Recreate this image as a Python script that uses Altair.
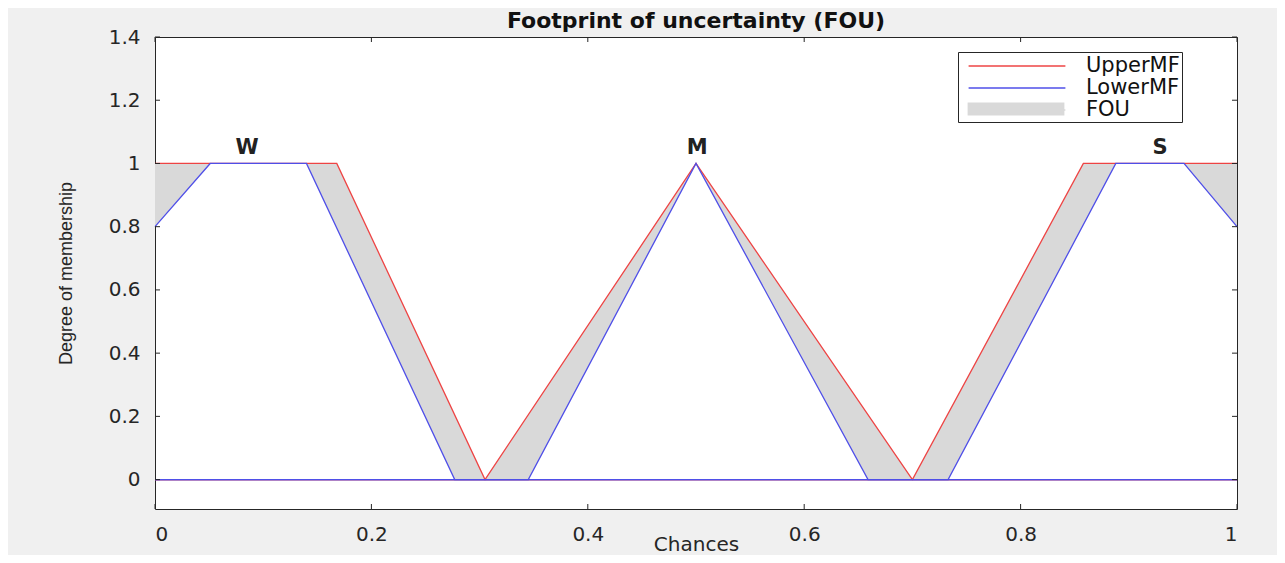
import altair as alt
import pandas as pd

# ---------------- data ----------------
w_upper_x = [0.0, 0.168, 0.305, 1.0]
w_upper_y = [1.0, 1.0, 0.0, 0.0]
w_lower_x = [0.0, 0.051, 0.140, 0.277, 1.0]
w_lower_y = [0.8, 1.0, 1.0, 0.0, 0.0]

m_upper_x = [0.0, 0.305, 0.5, 0.700, 1.0]
m_upper_y = [0.0, 0.0, 1.0, 0.0, 0.0]
m_lower_x = [0.0, 0.345, 0.5, 0.659, 1.0]
m_lower_y = [0.0, 0.0, 1.0, 0.0, 0.0]

s_upper_x = [0.0, 0.700, 0.858, 1.0]
s_upper_y = [0.0, 0.0, 1.0, 1.0]
s_lower_x = [0.0, 0.733, 0.888, 0.951, 1.0]
s_lower_y = [0.0, 0.0, 1.0, 1.0, 0.8]

w_fou_x = [0.0, 0.051, 0.140, 0.168, 0.277, 0.305]
w_fou_upper = [1.0, 1.0, 1.0, 1.0, 0.204, 0.0]
w_fou_lower = [0.8, 1.0, 1.0, 0.796, 0.0, 0.0]
m_fou_x = [0.305, 0.345, 0.5, 0.659, 0.700]
m_fou_upper = [0.0, 0.205, 1.0, 0.205, 0.0]
m_fou_lower = [0.0, 0.0, 1.0, 0.0, 0.0]
s_fou_x = [0.700, 0.733, 0.858, 0.888, 0.951, 1.0]
s_fou_upper = [0.0, 0.209, 1.0, 1.0, 1.0, 1.0]
s_fou_lower = [0.0, 0.0, 0.806, 1.0, 1.0, 0.8]

term_names = ["W", "M", "S"]
term_x = [0.085, 0.501, 0.929]
term_y = [1.048, 1.048, 1.048]

x_ticks = [0, 0.2, 0.4, 0.6, 0.8, 1]
y_ticks = [0, 0.2, 0.4, 0.6, 0.8, 1, 1.2, 1.4]
x_domain = [0, 1]
y_domain = [-0.093, 1.4]

series_names = ["UpperMF", "LowerMF", "FOU"]
series_colors = ["#ee4444", "#4f4fe8", "#d9d9d9"]
fou_names = ["FOU"]
fou_colors = ["#d9d9d9"]
line_symbol = "M-4.4,0H4.4"
patch_symbol = "M-4.4,-0.58H4.4V0.58H-4.4Z"

# ---------------- tables ----------------
def curve(name, series, xs, ys):
    return pd.DataFrame({"x": xs, "y": ys, "curve": name, "series": series})

upper_df = pd.concat([
    curve("W", "UpperMF", w_upper_x, w_upper_y),
    curve("M", "UpperMF", m_upper_x, m_upper_y),
    curve("S", "UpperMF", s_upper_x, s_upper_y),
])
lower_df = pd.concat([
    curve("W", "LowerMF", w_lower_x, w_lower_y),
    curve("M", "LowerMF", m_lower_x, m_lower_y),
    curve("S", "LowerMF", s_lower_x, s_lower_y),
])
fou_df = pd.concat([
    pd.DataFrame({"x": w_fou_x, "up": w_fou_upper, "lo": w_fou_lower, "curve": "W"}),
    pd.DataFrame({"x": m_fou_x, "up": m_fou_upper, "lo": m_fou_lower, "curve": "M"}),
    pd.DataFrame({"x": s_fou_x, "up": s_fou_upper, "lo": s_fou_lower, "curve": "S"}),
])
fou_df["series"] = "FOU"
terms_df = pd.DataFrame({"x": term_x, "y": term_y, "t": term_names})
xt_df = pd.DataFrame({"t": x_ticks})
yt_df = pd.DataFrame({"t": y_ticks})

W, H = 1082, 472
INK = "#262626"

xs = alt.Scale(domain=x_domain, nice=False, zero=False)
ys = alt.Scale(domain=y_domain, nice=False, zero=False)
line_scale = alt.Scale(domain=series_names, range=series_colors)
fou_scale = alt.Scale(domain=fou_names, range=fou_colors)

x_axis = alt.Axis(values=x_ticks, format="~g", grid=False, ticks=False,
                  domain=False, labelFont="DejaVu Sans", labelFontSize=20,
                  labelColor=INK, labelPadding=15,
                  title="Chances", titleFont="DejaVu Sans", titleFontSize=20,
                  titleFontWeight="normal", titleColor=INK, titlePadding=-10)
y_axis = alt.Axis(values=y_ticks, format="~g", grid=False, ticks=False,
                  domain=False, labelFont="DejaVu Sans", labelFontSize=20,
                  labelColor=INK, labelPadding=15,
                  title="Degree of membership", titleFont="Liberation Sans",
                  titleFontSize=18, titleFontWeight="normal", titleColor=INK,
                  titlePadding=33)

# framed legend with the three entries
line_legend = alt.Legend(orient="none", legendX=803, legendY=15, title=None,
                         symbolType=line_symbol, symbolSize=484,
                         symbolStrokeWidth=1.3,
                         symbolOffset=45, labelOffset=57,
                         strokeColor=INK, fillColor="white", padding=2,
                         rowPadding=0, labelFont="DejaVu Sans", labelFontSize=21,
                         labelColor="#111", zindex=0)
# grey patch placed on top of the FOU entry
fou_legend = alt.Legend(orient="none", legendX=803, legendY=59, title=None,
                        symbolType=patch_symbol, symbolSize=484,
                        symbolStrokeWidth=0, symbolOffset=45, labelOpacity=0,
                        padding=2, labelFont="DejaVu Sans", labelFontSize=21,
                        zindex=1)

band = alt.Chart(fou_df).mark_area(interpolate="linear").encode(
    x=alt.X("x:Q", scale=xs, axis=x_axis),
    y=alt.Y("up:Q", scale=ys, axis=y_axis),
    y2="lo:Q",
    detail="curve:N",
    fill=alt.Fill("series:N", scale=fou_scale, legend=fou_legend),
)

def mf_layer(df):
    return alt.Chart(df).mark_line(strokeWidth=1.3).encode(
        x=alt.X("x:Q", scale=xs),
        y=alt.Y("y:Q", scale=ys),
        detail="curve:N",
        stroke=alt.Stroke("series:N", scale=line_scale, legend=line_legend),
    )

upper = mf_layer(upper_df)
lower = mf_layer(lower_df)

terms = alt.Chart(terms_df).mark_text(font="DejaVu Sans", fontSize=21,
                                      fontWeight="bold", color="#222",
                                      baseline="middle").encode(
    x=alt.X("x:Q", scale=xs),
    y=alt.Y("y:Q", scale=ys),
    text="t:N",
)

tick_style = dict(color=INK, strokeWidth=1)
xb = alt.Chart(xt_df).mark_rule(**tick_style).encode(
    x=alt.X("t:Q", scale=xs), y=alt.value(H), y2=alt.value(H - 5))
xtop = alt.Chart(xt_df).mark_rule(**tick_style).encode(
    x=alt.X("t:Q", scale=xs), y=alt.value(0), y2=alt.value(5))
yl = alt.Chart(yt_df).mark_rule(**tick_style).encode(
    y=alt.Y("t:Q", scale=ys), x=alt.value(0), x2=alt.value(5))
yr = alt.Chart(yt_df).mark_rule(**tick_style).encode(
    y=alt.Y("t:Q", scale=ys), x=alt.value(W), x2=alt.value(W - 5))

chart = alt.layer(band, upper, lower, terms, xb, xtop, yl, yr).properties(
    width=W, height=H,
    title=alt.TitleParams("Footprint of uncertainty (FOU)", font="DejaVu Sans",
                          fontSize=22, fontWeight="bold", color="#111",
                          anchor="middle", offset=-6),
    background="#f0f0f0",
    padding={"left": 147, "top": 29, "right": 40, "bottom": 46},
    autosize=alt.AutoSizeParams(type="none"),
).configure_view(stroke=INK, strokeWidth=1, fill="white")

chart.save("out.html", embed_options={"renderer": "svg", "actions": False})
